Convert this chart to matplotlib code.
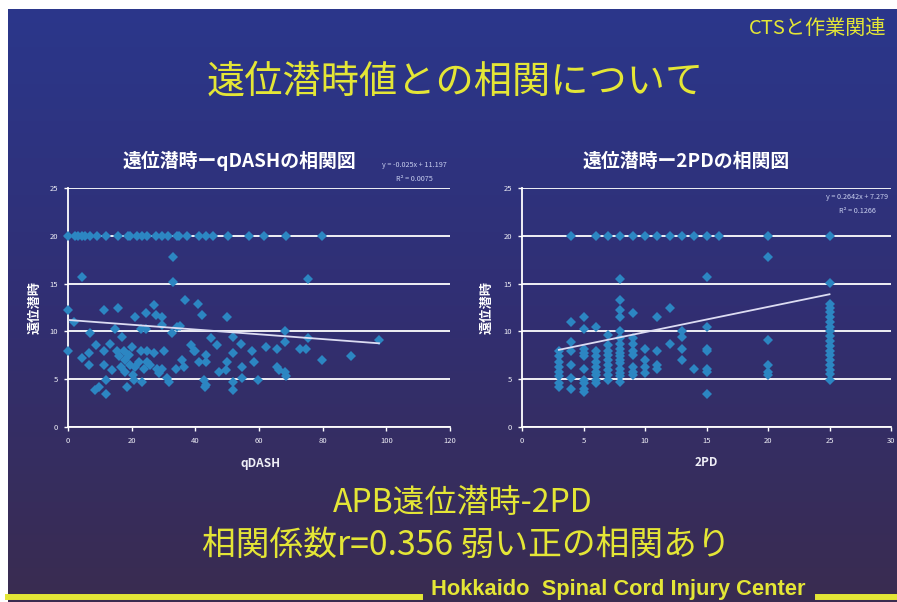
import numpy as np
import matplotlib
matplotlib.use("Agg")
import matplotlib.pyplot as plt
from matplotlib.colors import LinearSegmentedColormap

plt.rcParams['font.family'] = ['Noto Sans CJK JP', 'DejaVu Sans']

# ---------------- data ----------------
qdash_x = [0, 2.2, 3.2, 4.3, 5.3, 6.9, 9.2, 11.8, 15.8, 18.7, 19.5, 21.6, 23.2, 24.7,
           27.6, 29.5, 31.5, 34.2, 35, 37.3, 41.3, 43.3, 45.5, 50.2, 57, 61.7, 68.6, 79.8,
           0, 0, 1.8, 4.4, 6.5, 7, 6.7, 8.8, 8.6, 9.7, 11.2, 11.2, 11.2, 11.8, 11.8, 13.3,
           13.9, 14.7, 15.6, 15.4, 16, 16.5, 17, 17.5, 18, 18, 18.6, 19.1, 19.6, 20, 20.5,
           20.7, 21.2, 21.2, 22.3, 22.8, 22.8, 23.3, 23.9, 24.4, 24.4, 24.9, 24.9, 25.9, 27,
           27, 27.5, 28, 28.6, 29.4, 29.6, 30.1, 29.6, 31.2, 31.7, 32.8, 33.8, 34.3, 35.9,
           36.5, 36.7, 38.5, 39.5, 40.9, 41.2, 42, 42.7, 43.3, 43.3, 43.1, 44.8, 46.9, 47.5,
           49.6, 49.9, 50.1, 51.9, 51.9, 51.9, 51.9, 54.3, 54.6, 54.6, 57.9, 58.5, 59.6, 62.2,
           65.5, 65.5, 66.2, 68.3, 68.3, 68.3, 68.5, 73, 74.8, 75.3, 79.8, 89, 97.7,
           32.9, 32.9, 4.5, 75.4, 40.0, 43.4, 35.2]
qdash_y = [20] * 28 + [
           12.2, 8.0, 11.0, 7.2, 7.7, 9.8, 6.5, 8.6, 3.9, 4.2, 12.2, 8.0, 6.5, 4.9, 3.5, 8.7,
           6.0, 10.3, 12.4, 8.0, 7.4, 6.3, 9.4, 7.9, 7.0, 5.8, 4.2, 7.5, 6.5, 8.4, 5.4,
           4.9, 11.5, 6.3, 6.8, 7.9, 10.3, 4.7, 6.1, 11.9, 10.3, 7.9, 6.8, 6.5, 7.7,
           12.8, 11.7, 6.1, 5.6, 11.5, 10.7, 8.0, 6.1, 5.1, 4.7, 9.8, 6.1, 10.5, 7.0,
           6.3, 13.3, 8.6, 7.9, 12.9, 6.8, 11.7, 4.9, 7.5, 6.8, 4.2, 9.3, 8.6, 5.8,
           6.0, 11.5, 6.8, 9.4, 7.7, 4.7, 3.9, 8.7, 6.3, 5.1, 7.9, 6.8, 4.9, 8.4,
           8.2, 6.3, 6.0, 10.0, 8.9, 5.8, 5.3, 8.2, 8.2, 9.3, 7.0, 7.4, 9.1,
           17.8, 15.2, 15.7, 15.5, 8.0, 4.4, 10.6]

twopd_x = ([3] * 8 + [4] * 7 + [5] * 10 + [6] * 10 + [7] * 10 + [8] * 17 + [9] * 9 +
           [10] * 5 + [11] * 5 + [12] * 3 + [13] * 5 + [14] * 2 + [15] * 8 + [16] * 1 +
           [20] * 6 + [25] * 19)
twopd_y = [7.9, 7.4, 6.8, 6.3, 5.8, 5.3, 4.6, 4.2,
           20, 11.0, 8.9, 8.0, 6.5, 5.1, 4.0,
           11.5, 10.3, 8.2, 7.7, 7.4, 6.1, 4.9, 4.6, 4.0, 3.7,
           20, 10.5, 7.9, 7.4, 6.8, 6.3, 5.8, 5.4, 4.9, 4.6,
           20, 9.6, 8.6, 8.0, 7.5, 7.0, 6.5, 6.0, 5.4, 4.9,
           20, 15.5, 13.3, 12.2, 11.5, 10.0, 9.3, 8.7, 8.2, 7.7, 7.4, 7.0, 6.7, 6.1, 5.6, 5.3, 4.7,
           20, 11.9, 9.3, 8.7, 8.0, 7.5, 6.3, 5.8, 5.4,
           20, 8.2, 7.0, 6.3, 5.6,
           20, 11.5, 7.9, 6.5, 6.1,
           20, 12.4, 8.7,
           20, 10.0, 9.4, 8.2, 7.0,
           20, 6.1,
           20, 15.7, 10.5, 8.2, 8.0, 6.1, 5.8, 3.5,
           20,
           20, 17.8, 9.1, 6.5, 5.8, 5.4,
           20, 15.1, 12.9, 12.5, 12.0, 11.5, 11.0, 10.5, 10.0, 9.5, 9.0, 8.5, 8.0, 7.5,
           7.0, 6.5, 6.0, 5.5, 4.9]

left_fit = (-0.025, 11.197)
right_fit = (0.2642, 7.279)
left_eq = ["y = -0.025x + 11.197", "R² = 0.0075"]
right_eq = ["y = 0.2642x + 7.279", "R² = 0.1266"]
left_xticks = [0, 20, 40, 60, 80, 100, 120]
right_xticks = [0, 5, 10, 15, 20, 25, 30]
yticks = [0, 5, 10, 15, 20, 25]

# ---------------- figure ----------------
W, H = 897, 602
fig = plt.figure(figsize=(W / 100, H / 100), dpi=100, facecolor='white')

def fx(px):
    return px / W

def fy(py):
    return 1 - py / H

# gradient background (slide)
bg = fig.add_axes([fx(8), 0, 1 - fx(8), 1 - 9 / H])
bg.set_axis_off()
cmap = LinearSegmentedColormap.from_list('bg', ['#2b378b', '#312f73', '#3a2c50'])
grad = np.linspace(0, 1, 256).reshape(-1, 1)
bg.imshow(grad, aspect='auto', cmap=cmap, extent=[0, 1, 0, 1], origin='upper')
bg.set_xlim(0, 1)
bg.set_ylim(0, 1)

YEL = '#e4e636'
MK = '#2c86c2'
TXT = '#eeeef6'

def make_chart(rect, xs, ys, xlim, xticks, fit, fitrange):
    ax = fig.add_axes(rect)
    ax.patch.set_alpha(0)
    ax.set_xlim(*xlim)
    ax.set_ylim(0, 25)
    ax.set_xticks(xticks)
    ax.set_yticks(yticks)
    for s in ['top', 'right']:
        ax.spines[s].set_visible(False)
    for s in ['left', 'bottom']:
        ax.spines[s].set_color('white')
        ax.spines[s].set_linewidth(1.3)
    ax.yaxis.grid(True, color='white', linewidth=1.3)
    ax.set_axisbelow(True)
    ax.tick_params(axis='both', colors='white', labelcolor=TXT, labelsize=5.5,
                   length=3, width=1, direction='out', pad=4)
    ax.plot(xs, ys, linestyle='none', marker='D', markersize=5.2, color=MK,
            markeredgewidth=0, clip_on=False, zorder=3)
    x0, x1 = fitrange
    xl = np.array([x0, x1])
    ax.plot(xl, fit[0] * xl + fit[1], color='#dcdcf2', linewidth=1.3, zorder=4)
    return ax

ax1 = make_chart([fx(68), fy(427), fx(450) - fx(68), fy(188) - fy(427)],
                 qdash_x, qdash_y, (0, 120), left_xticks, left_fit,
                 (min(qdash_x), max(qdash_x)))
ax2 = make_chart([fx(522), fy(427), fx(891) - fx(522), fy(188) - fy(427)],
                 twopd_x, twopd_y, (0, 30), right_xticks, right_fit,
                 (min(twopd_x), max(twopd_x)))

# chart titles
fig.text(fx(239), fy(161), "遠位潜時ーqDASHの相関図", color='white', fontsize=13.6,
         fontweight='bold', ha='center', va='center')
fig.text(fx(686), fy(161), "遠位潜時ー2PDの相関図", color='white', fontsize=13.6,
         fontweight='bold', ha='center', va='center')

# trendline equations
fig.text(fx(414), fy(165), left_eq[0], color='#c9d0f0', fontsize=5.2, ha='center', va='center')
fig.text(fx(414), fy(179), left_eq[1], color='#c9d0f0', fontsize=5.2, ha='center', va='center')
fig.text(fx(857), fy(197), right_eq[0], color='#c9d0f0', fontsize=5.2, ha='center', va='center')
fig.text(fx(857), fy(211), right_eq[1], color='#c9d0f0', fontsize=5.2, ha='center', va='center')

# axis labels
for xpos in (35, 487):
    fig.text(fx(xpos), fy(308), "遠位潜時", color='white', fontsize=9.5, fontweight='bold',
             rotation=90, ha='center', va='center')
fig.text(fx(261), fy(463), "qDASH", color=TXT, fontsize=8.5, fontweight='bold',
         ha='center', va='center')
fig.text(fx(706), fy(463), "2PD", color=TXT, fontsize=8.5, fontweight='bold',
         ha='center', va='center')

# slide texts
fig.text(fx(886), fy(28), "CTSと作業関連", color=YEL, fontsize=14.5, ha='right', va='center')
fig.text(fx(455), fy(82), "遠位潜時値との相関について", color=YEL, fontsize=27.5,
         ha='center', va='center')
fig.text(fx(463), fy(503), "APB遠位潜時-2PD", color=YEL, fontsize=23, ha='center', va='center')
fig.text(fx(466), fy(545), "相関係数r=0.356 弱い正の相関あり", color=YEL, fontsize=24.3,
         ha='center', va='center')

# footer
foot = fig.text(fx(618), fy(589), "Hokkaido  Spinal Cord Injury Center", color=YEL,
                fontsize=15, fontweight='bold', ha='center', va='center',
                family=['Liberation Sans', 'DejaVu Sans'])
renderer = fig.canvas.get_renderer()
wpx = foot.get_window_extent(renderer).width
foot.set_fontsize(15 * 376 / wpx)
fig.add_artist(plt.Line2D([fx(8), fx(420)], [fy(597), fy(597)], color=YEL, linewidth=4.3,
                          transform=fig.transFigure))
fig.add_artist(plt.Line2D([fx(818), fx(897)], [fy(597), fy(597)], color=YEL, linewidth=4.3,
                          transform=fig.transFigure))

fig.savefig("out.png", dpi=100, facecolor='white')
